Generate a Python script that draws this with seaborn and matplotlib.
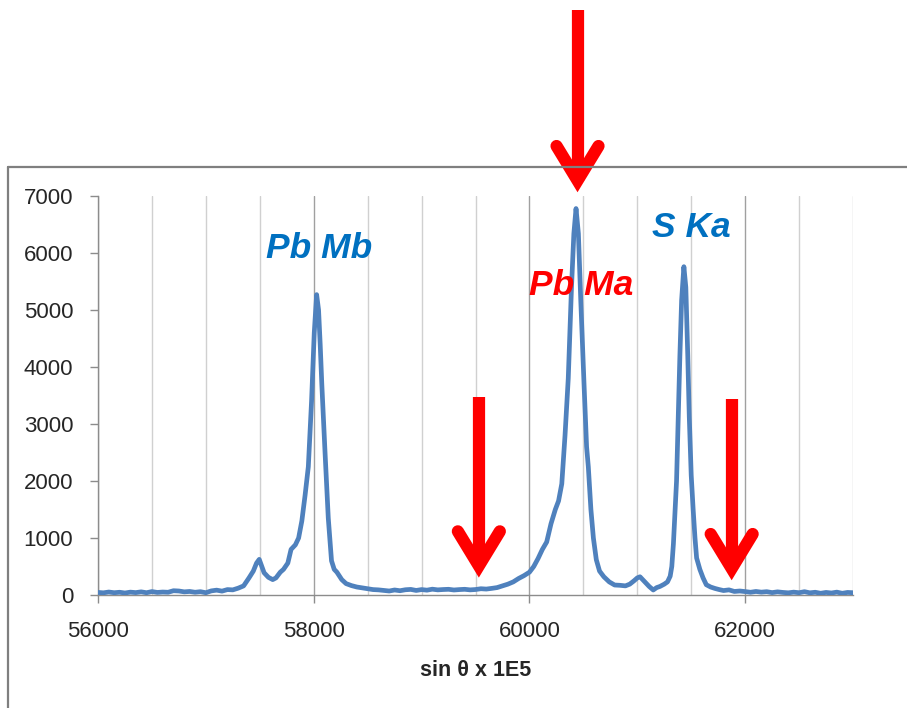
import matplotlib
matplotlib.use("Agg")
import matplotlib.pyplot as plt
from matplotlib.lines import Line2D
from matplotlib.ticker import MultipleLocator, FixedLocator
import numpy as np
import pandas as pd
import seaborn as sns

# Spectrometer scan: position (sin theta x 1E5) and counts
sin_theta = [
    56000, 56050, 56100, 56150, 56200, 56250, 56300, 56350, 56400, 56450,
    56500, 56550, 56600, 56650, 56700, 56750, 56800, 56850, 56900, 56950,
    57000, 57050, 57100, 57150, 57200, 57250, 57300, 57350, 57400, 57440,
    57470, 57495, 57515, 57540, 57580, 57620, 57650, 57690, 57720, 57760,
    57790, 57830, 57860, 57890, 57920, 57950, 57980, 58005, 58027, 58045,
    58060, 58075, 58105, 58135, 58165, 58190, 58215, 58260, 58300, 58350,
    58400, 58450, 58500, 58550, 58600, 58650, 58700, 58750, 58800, 58850,
    58900, 58950, 59000, 59050, 59100, 59150, 59200, 59250, 59300, 59350,
    59400, 59450, 59500, 59550, 59600, 59650, 59700, 59750, 59800, 59850,
    59900, 59950, 60000, 60040, 60080, 60120, 60160, 60200, 60240, 60270,
    60300, 60330, 60360, 60390, 60412, 60432, 60454, 60476, 60506, 60530,
    60546, 60570, 60593, 60620, 60650, 60690, 60740, 60790, 60840, 60890,
    60930, 60970, 61000, 61025, 61050, 61080, 61110, 61148, 61180, 61210,
    61250, 61280, 61305, 61320, 61335, 61350, 61364, 61380, 61395, 61411,
    61432, 61450, 61468, 61482, 61500, 61518, 61535, 61550, 61580, 61610,
    61640, 61680, 61720, 61760, 61800, 61850, 61900, 61950, 62000, 62050,
    62100, 62150, 62200, 62250, 62300, 62350, 62400, 62450, 62500, 62550,
    62600, 62650, 62700, 62750, 62800, 62850, 62900, 62950, 63000,
]
counts = [
    45, 38, 52, 40, 48, 35, 50, 42, 55, 40,
    60, 45, 52, 48, 75, 70, 55, 62, 48, 58,
    40, 72, 85, 68, 95, 90, 120, 160, 300, 420,
    560, 625, 520, 390, 310, 270, 300, 400, 450, 560,
    800, 880, 1000, 1300, 1750, 2250, 3400, 4600, 5270, 5000,
    4400, 3700, 2500, 1350, 600, 450, 400, 270, 200, 165,
    140, 125, 110, 95, 90, 80, 70, 88, 75, 92,
    98, 80, 95, 85, 102, 90, 96, 100, 88, 95,
    100, 90, 96, 110, 104, 116, 130, 160, 190, 230,
    290, 340, 400, 500, 640, 800, 930, 1250, 1500, 1650,
    1950, 2800, 3800, 5400, 6340, 6780, 6340, 5170, 3710, 2600,
    2250, 1500, 1000, 620, 420, 320, 230, 175, 170, 160,
    190, 250, 300, 320, 270, 210, 150, 88, 130, 150,
    190, 230, 330, 500, 900, 1450, 2000, 3130, 4200, 5170,
    5760, 5400, 4200, 3130, 2100, 1500, 1000, 650, 450, 300,
    180, 140, 115, 95, 78, 90, 62, 70, 60, 48,
    62, 50, 58, 42, 55, 45, 38, 50, 40, 58,
    38, 48, 30, 45, 35, 50, 30, 45, 40,
]

# Peak labels
peak_labels = ["Pb Mb", "Pb Ma", "S Ka"]
peak_label_x = [58049, 60478, 61504]
peak_label_y = [5906, 5262, 6285]
peak_label_colors = ["#0070C0", "#FF0000", "#0070C0"]

# Arrows: tip position and top of shaft (data units)
arrow_x = [60446, 59531, 61875]
arrow_tip_y = [7070, 310, 263]
arrow_top_y = [10260, 3480, 3440]

x_ticks = [56000, 58000, 60000, 62000]
y_ticks = [0, 1000, 2000, 3000, 4000, 5000, 6000, 7000]

sns.set_theme(style="white")
plt.rcParams["font.family"] = ["Liberation Sans", "DejaVu Sans"]

W, H = 907, 708
fig = plt.figure(figsize=(W / 100, H / 100), dpi=100)
ax = fig.add_axes([98 / W, 1 - 595 / H, 755 / W, 399 / H])

df = pd.DataFrame({"pos": sin_theta, "counts": counts})
sns.lineplot(data=df, x="pos", y="counts", ax=ax, color="#4F81BD",
             lw=3.4, zorder=3, sort=True)

ax.set_xlim(56000, 63000)
ax.set_ylim(0, 7000)
ax.xaxis.set_major_locator(FixedLocator(x_ticks))
ax.xaxis.set_minor_locator(MultipleLocator(500))
ax.yaxis.set_major_locator(FixedLocator(y_ticks))
ax.set_xticklabels([str(v) for v in x_ticks])
ax.set_yticklabels([str(v) for v in y_ticks])

ax.grid(False)
ax.grid(which="minor", axis="x", color="#D0D0D0", lw=1.0, zorder=0)
ax.grid(which="major", axis="x", color="#A0A0A0", lw=1.0, zorder=0)
ax.set_axisbelow(True)

for side in ("top", "right"):
    ax.spines[side].set_visible(False)
for side in ("left", "bottom"):
    ax.spines[side].set_color("#8C8C8C")
    ax.spines[side].set_linewidth(1.0)

ax.tick_params(axis="x", which="major", direction="out", length=5.8,
               width=1.0, color="#8C8C8C", pad=13, labelsize=16,
               labelcolor="#262626", bottom=True)
ax.tick_params(axis="x", which="minor", length=0, bottom=False)
ax.tick_params(axis="y", which="major", direction="out", length=5.8,
               width=1.0, color="#8C8C8C", pad=12, labelsize=16,
               labelcolor="#262626", left=True)

ax.set_xlabel("sin θ x 1E5", fontsize=15.5, fontweight="bold",
              color="#262626", labelpad=13)
ax.set_ylabel("")

for txt, lx, ly, c in zip(peak_labels, peak_label_x, peak_label_y,
                          peak_label_colors):
    ax.text(lx, ly, txt, color=c, fontsize=25.5, fontweight="bold",
            fontstyle="italic", ha="center", va="baseline", zorder=4)

# Chart-area frame
frame_kw = dict(transform=fig.transFigure, color="#7F7F7F", lw=1.6)
fig.add_artist(Line2D([8 / W, 8 / W], [0, 1 - 167 / H], **frame_kw))
fig.add_artist(Line2D([8 / W, 1.0], [1 - 167 / H, 1 - 167 / H], **frame_kw))


def offset(x, y, dxp, dyp):
    """Shift a data point by a display-pixel offset, returned in data units."""
    px, py = ax.transData.transform((x, y))
    return ax.transData.inverted().transform((px + dxp, py + dyp))


arrow_lw = 8.8
for ax_x, tip_y, top_y in zip(arrow_x, arrow_tip_y, arrow_top_y):
    vx, vy = offset(ax_x, tip_y, 0, 11.5)
    lx, ly = offset(ax_x, tip_y, -21, 46)
    rx, ry = offset(ax_x, tip_y, 21, 46)
    ax.plot([vx, vx], [vy, top_y], color="#FF0000", lw=arrow_lw,
            solid_capstyle="butt", clip_on=False, zorder=6)
    ax.plot([lx, vx, rx], [ly, vy, ry], color="#FF0000", lw=arrow_lw,
            solid_capstyle="round", solid_joinstyle="miter",
            clip_on=False, zorder=6)

fig.savefig("out.png", dpi=100)
